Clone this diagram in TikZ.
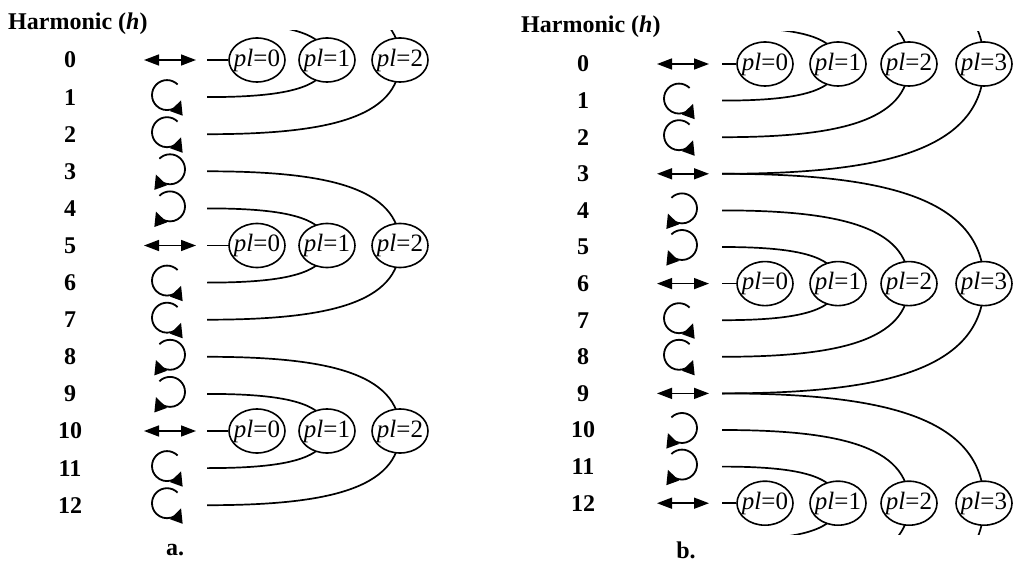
\documentclass[tikz,border=0pt]{standalone}
\usepackage{fontspec}
\setmainfont{Liberation Serif}
\usetikzlibrary{arrows.meta,shapes.geometric,calc}
\pgfdeclarelayer{bg}
\pgfsetlayers{bg,main}
\begin{document}
\begin{tikzpicture}[x=1pt,y=1pt,
  num/.style={font=\fontsize{24}{26}\selectfont\bfseries, inner sep=0pt},
  plnode/.style={draw, ellipse, line width=1.6pt, fill=white, inner xsep=-4pt, inner ysep=0pt,
    minimum width=56pt, minimum height=44pt, font=\fontsize{25}{27}\selectfont},
  conn/.style={line width=1.7pt},
  dbl/.style={line width=1.5pt, {Triangle[length=15pt,width=11pt]}-{Triangle[length=15pt,width=11pt]}},
  circarr/.style={line width=1.8pt, -{Triangle[length=14pt,width=13pt]}},
]
\useasboundingbox (0,0) rectangle (1014,-564);

% ================= panel a =================
\node[num, anchor=west] (ha) at (8,-24) {Harmonic (\textit{h})};
\foreach \h in {-2,...,12}{
  \pgfmathsetmacro\y{-(60+37.1*\h)}
  \coordinate (sa\h) at (207,\y);
}
\foreach \h in {0,...,12}{
  \pgfmathsetmacro\y{-(60+37.1*\h)}
  \node[num] (na\h) at (70,\y) {\h};
}
\foreach \h in {0,5,10}{
  \pgfmathsetmacro\y{-(60+37.1*\h)}
  \draw[dbl] (144,\y) -- (196,\y);
}
\foreach \h in {1,2,6,7,11,12}{
  \pgfmathsetmacro\y{-(58+37.1*\h)}
  \draw[circarr] ([shift={(45:15)}]167,\y) arc[start angle=45,end angle=340,radius=15pt];
}
\foreach \h in {3,4,8,9}{
  \pgfmathsetmacro\y{-(58+37.1*\h)}
  \draw[circarr] ([shift={(135:15)}]170,\y) arc[start angle=135,end angle=-160,radius=15pt];
}
\foreach \r in {0,5,10}{
  \pgfmathsetmacro\y{-(60+37.1*\r)}
  \node[plnode] (ea\r l0) at (257,\y) {\textit{pl}=0};
  \node[plnode] (ea\r l1) at (327,\y) {\textit{pl}=1};
  \node[plnode] (ea\r l2) at (400,\y) {\textit{pl}=2};
  \draw[conn] (sa\r) -- (ea\r l0);
}
\node[num] (la) at (175,-550) {a.};

% ================= panel b =================
\node[num, anchor=west] (hb) at (521,-27) {Harmonic (\textit{h})};
\foreach \h in {-3,...,15}{
  \pgfmathsetmacro\y{-(64+36.6*\h)}
  \coordinate (sb\h) at (722,\y);
}
\foreach \h in {0,...,12}{
  \pgfmathsetmacro\y{-(64+36.6*\h)}
  \node[num] (nb\h) at (583,\y) {\h};
}
\foreach \h in {0,3,6,9,12}{
  \pgfmathsetmacro\y{-(64+36.6*\h)}
  \draw[dbl] (657,\y) -- (709,\y);
}
\foreach \h in {1,2,7,8}{
  \pgfmathsetmacro\y{-(62+36.6*\h)}
  \draw[circarr] ([shift={(45:15)}]679,\y) arc[start angle=45,end angle=340,radius=15pt];
}
\foreach \h in {4,5,10,11}{
  \pgfmathsetmacro\y{-(62+36.6*\h)}
  \draw[circarr] ([shift={(135:15)}]682,\y) arc[start angle=135,end angle=-160,radius=15pt];
}
\foreach \r in {0,6,12}{
  \pgfmathsetmacro\y{-(64+36.6*\r)}
  \node[plnode] (eb\r l0) at (765,\y) {\textit{pl}=0};
  \node[plnode] (eb\r l1) at (838,\y) {\textit{pl}=1};
  \node[plnode] (eb\r l2) at (909,\y) {\textit{pl}=2};
  \node[plnode] (eb\r l3) at (984,\y) {\textit{pl}=3};
  \draw[conn] (sb\r) -- (eb\r l0);
}
\node[num] (lb) at (686,-550) {b.};

% ================= curves (behind ellipses) =================
\begin{pgfonlayer}{bg}
\begin{scope}
  \clip (200,-31) rectangle (450,-545);
  \foreach \r in {0,5,10}{
    \foreach \l/\X in {1/327,2/400}{
      \pgfmathtruncatemacro\up{\r-\l}
      \pgfmathtruncatemacro\dn{\r+\l}
      \pgfmathsetmacro\ca{0.6*(\X-207)}
      \pgfmathsetmacro\cd{0.8*37.1*\l}
      \draw[conn] (sa\up) .. controls +(\ca,0) and +(0,\cd) .. (ea\r l\l.center);
      \draw[conn] (sa\dn) .. controls +(\ca,0) and +(0,-\cd) .. (ea\r l\l.center);
    }
  }
\end{scope}
\begin{scope}
  \clip (715,-32) rectangle (1014,-534);
  \foreach \r in {0,6,12}{
    \foreach \l/\X in {1/838,2/909,3/984}{
      \pgfmathtruncatemacro\up{\r-\l}
      \pgfmathtruncatemacro\dn{\r+\l}
      \pgfmathsetmacro\ca{0.6*(\X-722)}
      \pgfmathsetmacro\cd{0.8*36.6*\l}
      \draw[conn] (sb\up) .. controls +(\ca,0) and +(0,\cd) .. (eb\r l\l.center);
      \draw[conn] (sb\dn) .. controls +(\ca,0) and +(0,-\cd) .. (eb\r l\l.center);
    }
  }
\end{scope}
\end{pgfonlayer}
\end{tikzpicture}
\end{document}
